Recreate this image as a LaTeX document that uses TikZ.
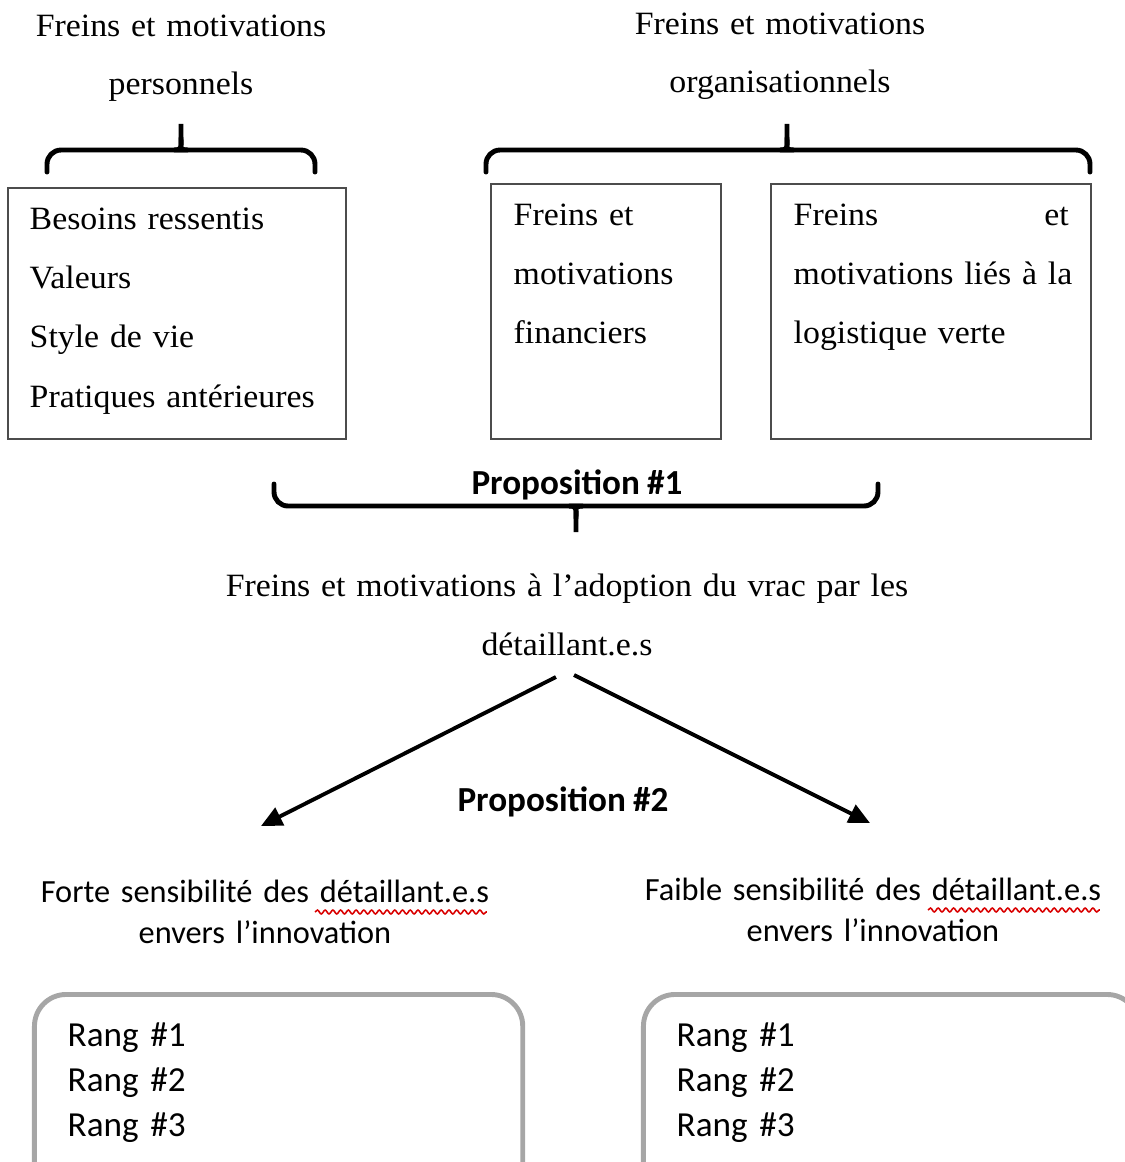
\documentclass[tikz,border=0pt]{standalone}
\usepackage{fontspec}
\setmainfont{Liberation Serif}[FakeStretch=1.04, WordSpace=0.75]
\newfontfamily\calibri{Carlito}[WordSpace=0.9]
\usetikzlibrary{arrows.meta,decorations.pathmorphing}

\tikzset{
	cadre/.style={draw=black!70, line width=0.5pt, inner sep=0pt, anchor=north west},
	serif/.style={font=\fontsize{9.25}{16.9}\selectfont, inner sep=0pt},
	titre/.style={font=\fontsize{9.25}{16.5}\selectfont, inner sep=0pt, align=center, anchor=base},
	sans/.style={font=\calibri\fontsize{9.2}{11.7}\selectfont, inner sep=0pt, align=center, anchor=base},
	prop/.style={font=\calibri\bfseries\fontsize{10}{12}\selectfont, inner sep=0pt, anchor=base},
	accolade/.style={line width=1.4pt, rounded corners=4pt, line cap=round},
	fleche/.style={line width=1.1pt, -{Triangle[length=6pt,width=5.5pt]}},
	boite/.style={draw=black!35, line width=1.4pt, rounded corners=9pt, inner sep=0pt, anchor=north west},
	souligne/.style={draw=red!85!black, line width=0.45pt, decorate, decoration={snake, amplitude=0.55pt, segment length=2.2pt}}
}

\begin{document}
\begin{tikzpicture}[x=0.01cm, y=-0.01cm]
		\clip (0,0) rectangle (1125,1162);
		
		% titres du haut
		\node[titre, text width=3.6cm] (perso) at (181,36) {Freins et motivations\\personnels};
		\node[titre, text width=4cm] (orga) at (780,34) {Freins et motivations\\organisationnels};
		
		\draw[accolade] (47,172) -- (47,150) -- (174,150) .. controls (179,150) and (181,146) .. (181,138) -- (181,124);
		\draw[accolade] (181,138) .. controls (181,146) and (183,150) .. (188,150) -- (315,150) -- (315,172);
		\draw[accolade] (486,172) -- (486,150) -- (780,150) .. controls (785,150) and (787,146) .. (787,138) -- (787,124);
		\draw[accolade] (787,138) .. controls (787,146) and (789,150) .. (794,150) -- (1090,150) -- (1090,172);
		
		% les trois cadres
		\node[cadre, minimum width=3.38cm, minimum height=2.51cm] (besoins) at (7,187) {};
		\node[cadre, minimum width=2.30cm, minimum height=2.55cm] (finance) at (490,183) {};
		\node[cadre, minimum width=3.20cm, minimum height=2.55cm] (logist) at (770,183) {};
		\node[serif, text width=3.1cm, align=left, anchor=base west] (listeperso) at (29,229) {Besoins ressentis\\Valeurs\\Style de vie\\Pratiques antérieures};
		\node[serif, text width=2cm, align=left, anchor=base west] (txtfinance) at (513,225) {Freins et\\motivations\\financiers};
		\node[serif, text width=2.75cm, align=left, anchor=base west] (txtlogist) at (793,225) {Freins\hfill et\\\mbox{motivations liés à la}\\logistique verte};
		
		% proposition 1
		\draw[accolade] (274,484) -- (274,506) -- (569,506) .. controls (574,506) and (576,510) .. (576,518) -- (576,530);
		\draw[accolade] (576,518) .. controls (576,510) and (578,506) .. (583,506) -- (878,506) -- (878,484);
		\node[prop] (prop1) at (577,494) {Proposition \#1};
		
		\node[serif, text width=7.2cm, align=center, anchor=base] (adoption) at (567,596) {Freins et motivations à l’adoption du vrac par les\\détaillant.e.s};
		
		% proposition 2
		\coordinate (departG) at (556,677);
		\coordinate (pointeG) at (261,826);
		\coordinate (departD) at (574,675);
		\coordinate (pointeD) at (870,823);
		\draw[fleche] (departG) -- (pointeG);
		\draw[fleche] (departD) -- (pointeD);
		\node[prop] (prop2) at (563,811) {Proposition \#2};
		
		\node[sans, text width=4.8cm] (forte) at (265,902) {Forte sensibilité des détaillant.e.s\\envers l’innovation};
		\node[sans, text width=4.8cm] (faible) at (873,900) {Faible sensibilité des détaillant.e.s\\envers l’innovation};
		\draw[souligne] (315,912) -- (487,912);
		\draw[souligne] (928,910) -- (1100,910);
		
		\node[boite, minimum width=4.88cm, minimum height=2cm] (boiteforte) at (32,992) {};
		\node[boite, minimum width=4.95cm, minimum height=2cm] (boitefaible) at (641,992) {};
		\node[sans, font=\calibri\fontsize{10}{12.8}\selectfont, text width=2cm, align=left, anchor=base west] (rangforte) at (67,1046) {Rang \#1\\Rang \#2\\Rang \#3};
		\node[sans, font=\calibri\fontsize{10}{12.8}\selectfont, text width=2cm, align=left, anchor=base west] (rangfaible) at (676,1046) {Rang \#1\\Rang \#2\\Rang \#3};
\end{tikzpicture}
\end{document}
